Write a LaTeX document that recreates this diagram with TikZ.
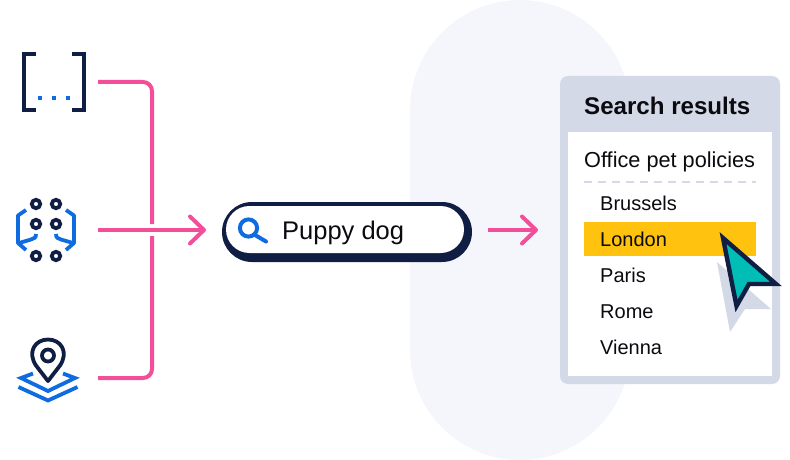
\documentclass[tikz,border=0pt]{standalone}
\usepackage{fontspec}
\setmainfont{Liberation Sans}
\usetikzlibrary{arrows.meta}
\definecolor{pinkc}{HTML}{F24E9A}
\definecolor{navyc}{HTML}{101E44}
\definecolor{bluec}{HTML}{0F6BE0}
\definecolor{blobc}{HTML}{F5F6FB}
\definecolor{panelc}{HTML}{D3D9E6}
\definecolor{amberc}{HTML}{FFC20E}
\definecolor{tealc}{HTML}{00BDB5}
\definecolor{inkc}{HTML}{0A0A0F}
\tikzset{
  x=1pt,y=-1pt,
  pinkline/.style={draw=pinkc,line width=4pt},
  arrowline/.style={pinkline,-{Straight Barb[length=14pt,width=27pt,line width=4pt,round]}},
  navyline/.style={draw=navyc,line width=3.8pt},
  blueline/.style={draw=bluec,line width=3.8pt},
  item/.style={anchor=base west,inner sep=0pt,text=inkc,font=\fontsize{20}{24}\selectfont},
  head/.style={anchor=base west,inner sep=0pt,text=inkc,font=\fontsize{24.1}{28}\selectfont\bfseries},
  sub/.style={anchor=base west,inner sep=0pt,text=inkc,font=\fontsize{21.7}{26}\selectfont},
  barlabel/.style={anchor=base west,inner sep=0pt,text=inkc,font=\fontsize{25.5}{30}\selectfont},
}
\begin{document}
\begin{tikzpicture}
\useasboundingbox (0,0) rectangle (790,460);
% backdrop
\fill[blobc,rounded corners=110pt] (410,0) rectangle (630,460);
% icon 1: brackets
\draw[navyc,line width=4pt] (36,54) -- (24,54) -- (24,110) -- (36,110);
\draw[navyc,line width=4pt] (72,54) -- (84,54) -- (84,110) -- (72,110);
\foreach \x in {38,52,66}\fill[bluec] (\x,96) rectangle ++(4,4);
% icon 2: network
\foreach \x in {36,56}\foreach \y in {204,224,256}\draw[navyc,line width=3.8pt] (\x,\y) circle[radius=4.2];
\draw[blueline,line join=round] (26,210) -- (18,215.5) -- (18,243) -- (26,250);
\draw[blueline,line join=round] (66,210) -- (74,215.5) -- (74,243) -- (66,250);
\draw[blueline] (36,234) .. controls (36,238) and (34,238.5) .. (31,239.5) -- (19,243);
\draw[blueline] (56,234) .. controls (56,238) and (58,238.5) .. (61,239.5) -- (73,243);
% icon 3: pin and layers
\draw[navyline,line join=round] (48,381) -- (36,365.5) .. controls (27,352) and (35,339.5) .. (48,339.5) .. controls (61,339.5) and (69,352) .. (60,365.5) -- cycle;
\draw[navyline] (48,355.5) circle[radius=6];
\draw[blueline] (33,373.5) -- (21,378) -- (48,391) -- (75,378) -- (63,373.5);
\draw[blueline] (18.5,387) -- (48,400.5) -- (77.5,387);
% connector anchors
\coordinate (o1) at (98,82);
\coordinate (o2) at (98,230);
\coordinate (o3) at (98,378);
\coordinate (bus) at (152,82);
\coordinate (busu) at (152,224);
\coordinate (busl) at (152,236);
\coordinate (busb) at (152,378);
\draw[pinkline,rounded corners=9pt] (o1) -- (bus) -- (busu);
\draw[pinkline,rounded corners=9pt] (busl) -- (busb) -- (o3);
% search bar
\fill[navyc,rounded corners=30pt] (222,202) rectangle (472,262);
\fill[white,rounded corners=23.5pt] (226,206) rectangle (464,253);
\coordinate (barin) at (206,230);
\coordinate (barout) at (488,230);
\coordinate (panelin) at (538,230);
\draw[arrowline] (o2) -- (barin);
\draw[arrowline] (barout) -- (panelin);
\draw[bluec,line width=4pt] (248.5,228) circle[radius=8.6];
\draw[bluec,line width=4pt,line cap=round] (255,235) -- (266,241.5);
\node[barlabel] (query) at (282,239) {Puppy dog};
% panel
\fill[panelc,rounded corners=8pt] (560,76) rectangle (780,384);
\fill[white] (568,132) rectangle (772,376);
\node[head] (title) at (584,114) {Search results};
\node[sub] (policies) at (584,167) {Office pet policies};
\draw[panelc,line width=2pt,dash pattern=on 8pt off 6pt] (584,182) -- (756,182);
\fill[amberc] (584,222) rectangle (756,256);
\node[item] (r1) at (600,210) {Brussels};
\node[item] (r2) at (600,246) {London};
\node[item] (r3) at (600,282) {Paris};
\node[item] (r4) at (600,318) {Rome};
\node[item] (r5) at (600,354) {Vienna};
% cursor
\fill[panelc] (717,262) -- (771,309) -- (745,309) -- (730,332) -- cycle;
\draw[navyc,fill=tealc,line width=4.4pt,miter limit=10] (723,238) -- (776,284) -- (749,284) -- (736.5,306) -- cycle;
\end{tikzpicture}
\end{document}
